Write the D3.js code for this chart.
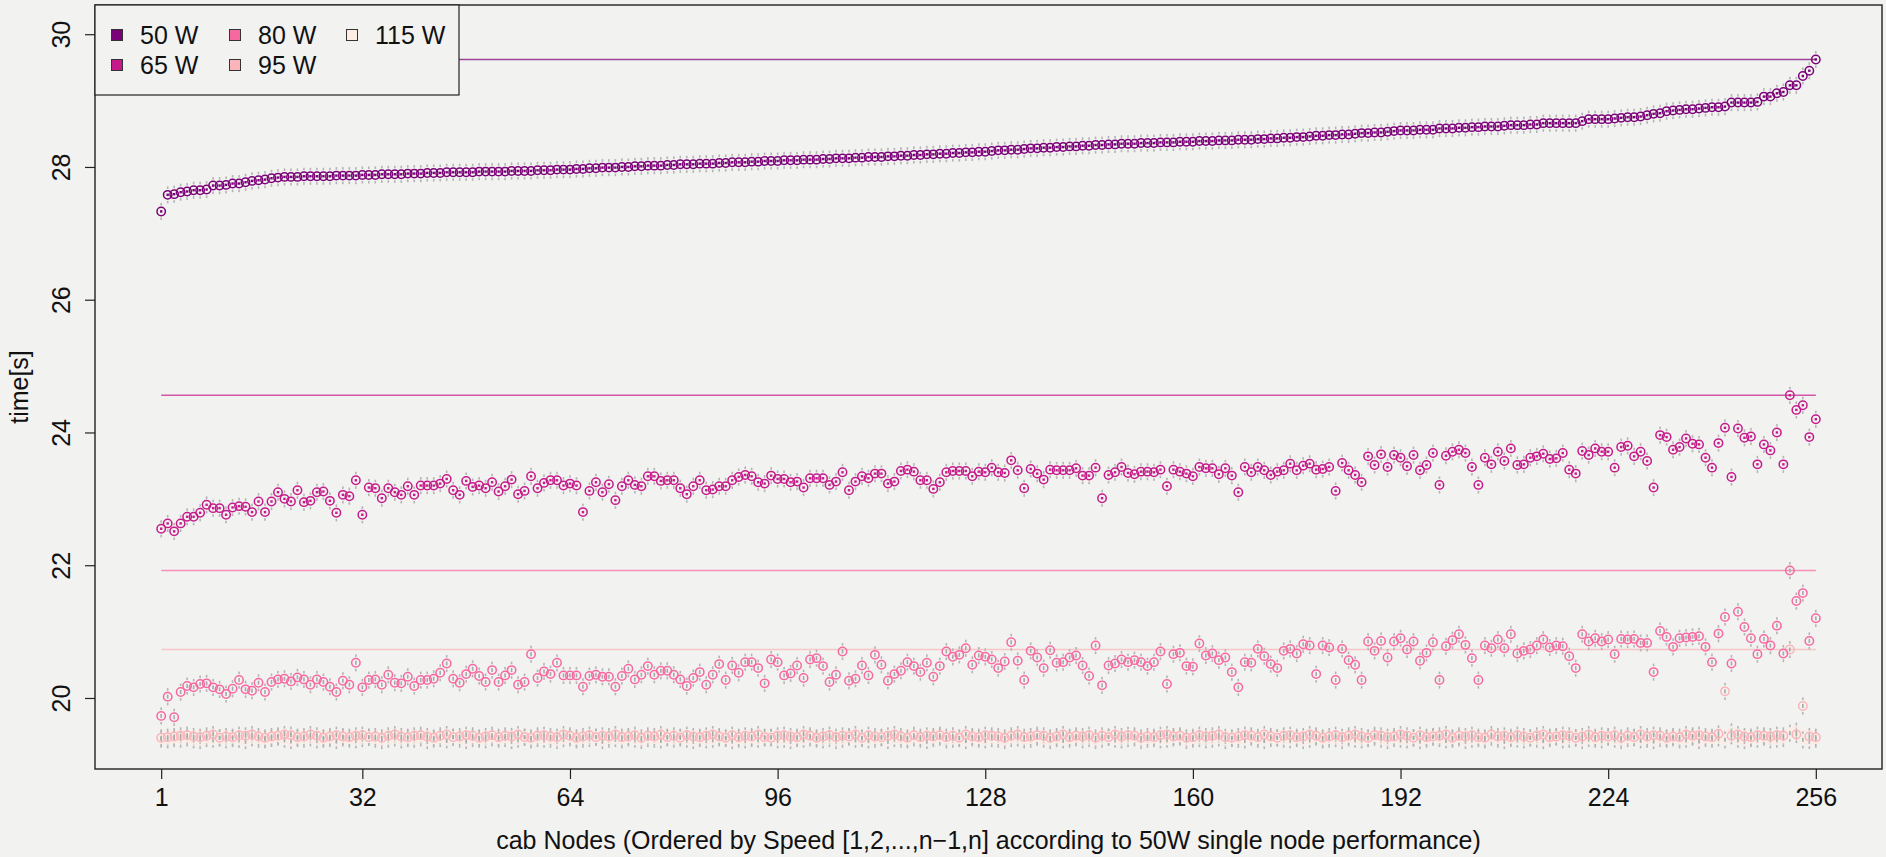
<!DOCTYPE html>
<html><head><meta charset="utf-8">
<script src="https://cdn.jsdelivr.net/npm/d3@7"></script>
<style>
html,body{margin:0;padding:0;background:#f2f2f1;}
svg{display:block;font-family:"Liberation Sans",Arial,Helvetica,sans-serif;}
</style>
</head><body>
<svg id="chart" width="1886" height="857"></svg>
<script>
// ---------- data ----------
const seriesNames = ["50 W", "65 W", "80 W", "95 W", "115 W"];
const seriesColors = ["#7a0177", "#c51b8a", "#f768a1", "#fbb4b9", "#feebe2"];
const xTickValues = [1, 32, 64, 96, 128, 160, 192, 224, 256];
const yTickValues = [20, 22, 24, 26, 28, 30];
const xTitle = "cab Nodes (Ordered by Speed [1,2,...,n\u22121,n] according to 50W single node performance)";
const yTitle = "time[s]";

const w50 = [27.33,27.58,27.59,27.62,27.63,27.65,27.65,27.66,27.72,27.72,
27.73,27.75,27.75,27.77,27.79,27.80,27.81,27.83,27.84,27.85,
27.85,27.85,27.86,27.86,27.86,27.86,27.86,27.87,27.87,27.87,
27.87,27.88,27.88,27.88,27.89,27.89,27.89,27.89,27.90,27.90,
27.90,27.91,27.91,27.91,27.92,27.92,27.92,27.92,27.92,27.93,
27.93,27.93,27.93,27.93,27.94,27.94,27.94,27.94,27.95,27.95,
27.95,27.96,27.96,27.96,27.97,27.97,27.98,27.98,27.99,27.99,
27.99,28.00,28.00,28.01,28.01,28.02,28.02,28.02,28.03,28.03,
28.04,28.04,28.04,28.05,28.05,28.05,28.06,28.06,28.07,28.07,
28.07,28.08,28.08,28.09,28.09,28.09,28.10,28.10,28.10,28.11,
28.11,28.11,28.12,28.12,28.13,28.13,28.13,28.14,28.14,28.15,
28.15,28.15,28.16,28.16,28.17,28.17,28.18,28.18,28.19,28.19,
28.20,28.20,28.21,28.21,28.22,28.22,28.23,28.23,28.24,28.25,
28.25,28.26,28.26,28.27,28.28,28.28,28.29,28.29,28.30,28.30,
28.31,28.31,28.32,28.32,28.33,28.33,28.34,28.34,28.35,28.35,
28.35,28.36,28.36,28.36,28.37,28.37,28.37,28.38,28.38,28.38,
28.39,28.39,28.39,28.40,28.40,28.40,28.41,28.41,28.41,28.42,
28.42,28.43,28.43,28.44,28.44,28.45,28.45,28.46,28.47,28.47,
28.48,28.48,28.49,28.49,28.50,28.51,28.51,28.52,28.52,28.53,
28.54,28.55,28.55,28.55,28.56,28.56,28.56,28.58,28.58,28.58,
28.59,28.59,28.60,28.60,28.61,28.61,28.61,28.62,28.63,28.63,
28.63,28.64,28.64,28.66,28.66,28.66,28.66,28.66,28.66,28.69,
28.72,28.72,28.72,28.72,28.73,28.74,28.75,28.75,28.76,28.78,
28.80,28.81,28.84,28.85,28.86,28.87,28.87,28.88,28.89,28.90,
28.90,28.91,28.97,28.97,28.97,28.97,28.98,29.06,29.06,29.11,
29.13,29.23,29.23,29.37,29.45,29.62];

const w65 = [22.55,22.63,22.51,22.63,22.73,22.73,22.79,22.91,22.86,22.86,
22.76,22.87,22.89,22.88,22.80,22.96,22.80,22.96,23.10,23.00,
22.96,23.13,22.95,22.97,23.10,23.11,22.97,22.79,23.06,23.04,
23.28,22.76,23.17,23.16,23.01,23.16,23.10,23.06,23.19,23.06,
23.20,23.20,23.20,23.23,23.30,23.13,23.06,23.27,23.18,23.20,
23.16,23.25,23.11,23.19,23.29,23.07,23.12,23.34,23.16,23.24,
23.28,23.28,23.20,23.23,23.20,22.80,23.12,23.25,23.10,23.22,
22.98,23.19,23.28,23.21,23.19,23.34,23.34,23.27,23.28,23.28,
23.16,23.07,23.19,23.28,23.13,23.14,23.19,23.19,23.28,23.33,
23.36,23.34,23.25,23.23,23.35,23.30,23.30,23.25,23.26,23.17,
23.31,23.31,23.31,23.21,23.26,23.40,23.13,23.26,23.34,23.31,
23.38,23.38,23.23,23.26,23.42,23.44,23.41,23.28,23.28,23.15,
23.25,23.40,23.42,23.42,23.42,23.34,23.41,23.40,23.47,23.40,
23.39,23.58,23.43,23.16,23.45,23.38,23.29,23.44,23.43,23.43,
23.43,23.46,23.35,23.35,23.47,23.01,23.36,23.40,23.48,23.39,
23.37,23.41,23.41,23.40,23.44,23.19,23.44,23.41,23.38,23.34,
23.48,23.46,23.46,23.37,23.46,23.35,23.10,23.48,23.40,23.48,
23.43,23.36,23.41,23.43,23.53,23.43,23.50,23.53,23.44,23.45,
23.48,23.12,23.54,23.43,23.36,23.25,23.64,23.51,23.67,23.48,
23.66,23.62,23.49,23.66,23.43,23.51,23.69,23.21,23.65,23.71,
23.74,23.69,23.48,23.21,23.62,23.52,23.71,23.57,23.76,23.51,
23.52,23.62,23.64,23.68,23.60,23.61,23.69,23.44,23.38,23.72,
23.66,23.76,23.71,23.71,23.47,23.78,23.80,23.64,23.71,23.57,
23.17,23.96,23.93,23.74,23.78,23.91,23.83,23.82,23.62,23.47,
23.84,24.07,23.33,24.06,23.92,23.94,23.52,23.82,23.73,24.00,
23.52,24.56,24.34,24.41,23.93,24.20];

const w80 = [19.73,20.02,19.71,20.09,20.18,20.16,20.21,20.22,20.16,20.13,
20.06,20.14,20.27,20.13,20.11,20.23,20.09,20.24,20.28,20.29,
20.25,20.31,20.28,20.20,20.28,20.24,20.17,20.09,20.26,20.20,
20.53,20.16,20.27,20.28,20.20,20.35,20.23,20.22,20.32,20.18,
20.27,20.27,20.29,20.38,20.52,20.29,20.23,20.36,20.44,20.33,
20.24,20.42,20.24,20.34,20.42,20.20,20.24,20.66,20.30,20.40,
20.36,20.53,20.34,20.34,20.34,20.17,20.33,20.35,20.32,20.32,
20.17,20.33,20.44,20.28,20.35,20.48,20.35,20.41,20.41,20.35,
20.28,20.18,20.30,20.39,20.20,20.35,20.51,20.27,20.49,20.38,
20.54,20.54,20.45,20.22,20.58,20.54,20.34,20.37,20.49,20.30,
20.58,20.60,20.48,20.24,20.35,20.70,20.26,20.29,20.49,20.34,
20.65,20.50,20.26,20.36,20.41,20.54,20.48,20.39,20.53,20.32,
20.48,20.70,20.62,20.65,20.75,20.50,20.64,20.62,20.58,20.45,
20.55,20.84,20.56,20.27,20.71,20.61,20.45,20.72,20.53,20.54,
20.61,20.64,20.49,20.33,20.79,20.19,20.49,20.52,20.58,20.54,
20.57,20.54,20.48,20.54,20.70,20.21,20.66,20.68,20.48,20.47,
20.82,20.64,20.67,20.57,20.61,20.39,20.16,20.54,20.53,20.74,
20.63,20.51,20.45,20.71,20.74,20.67,20.81,20.79,20.36,20.79,
20.76,20.27,20.74,20.57,20.50,20.27,20.85,20.71,20.86,20.61,
20.85,20.90,20.73,20.85,20.56,20.68,20.84,20.27,20.78,20.87,
20.96,20.80,20.60,20.27,20.79,20.75,20.88,20.75,20.96,20.67,
20.71,20.73,20.79,20.88,20.76,20.79,20.78,20.63,20.45,20.96,
20.85,20.90,20.85,20.88,20.66,20.89,20.88,20.89,20.83,20.83,
20.39,21.01,20.92,20.77,20.90,20.91,20.92,20.93,20.77,20.54,
20.97,21.22,20.52,21.30,21.07,20.90,20.66,20.89,20.79,21.09,
20.67,21.92,21.46,21.58,20.86,21.20];

const w95 = [19.40,19.41,19.42,19.43,19.44,19.42,19.41,19.43,19.45,19.40,
19.42,19.41,19.44,19.43,19.45,19.42,19.40,19.42,19.43,19.45,
19.44,19.41,19.42,19.45,19.43,19.40,19.42,19.44,19.42,19.41,
19.43,19.44,19.41,19.42,19.40,19.43,19.45,19.42,19.41,19.43,
19.44,19.42,19.40,19.43,19.45,19.41,19.42,19.44,19.43,19.40,
19.42,19.44,19.41,19.43,19.42,19.45,19.41,19.40,19.43,19.44,
19.42,19.41,19.45,19.43,19.40,19.42,19.44,19.41,19.43,19.42,
19.45,19.41,19.42,19.44,19.40,19.43,19.42,19.45,19.41,19.43,
19.40,19.44,19.42,19.41,19.43,19.45,19.42,19.40,19.44,19.41,
19.43,19.42,19.45,19.41,19.40,19.43,19.44,19.42,19.41,19.45,
19.43,19.40,19.42,19.44,19.41,19.43,19.42,19.45,19.40,19.44,
19.42,19.41,19.43,19.45,19.42,19.40,19.44,19.41,19.43,19.42,
19.44,19.41,19.43,19.40,19.45,19.42,19.41,19.44,19.43,19.42,
19.40,19.43,19.45,19.41,19.42,19.44,19.43,19.40,19.42,19.45,
19.41,19.43,19.42,19.44,19.40,19.43,19.41,19.45,19.42,19.44,
19.43,19.40,19.42,19.41,19.44,19.45,19.42,19.43,19.40,19.41,
19.44,19.42,19.43,19.45,19.41,19.40,19.42,19.44,19.43,19.41,
19.45,19.42,19.40,19.43,19.44,19.41,19.42,19.45,19.43,19.40,
19.42,19.44,19.41,19.43,19.45,19.42,19.40,19.44,19.43,19.41,
19.42,19.45,19.43,19.40,19.44,19.41,19.42,19.43,19.45,19.40,
19.43,19.42,19.44,19.41,19.40,19.45,19.42,19.43,19.41,19.44,
19.42,19.40,19.43,19.45,19.41,19.42,19.44,19.43,19.40,19.42,
19.45,19.41,19.43,19.42,19.44,19.40,19.43,19.41,19.45,19.42,
19.44,19.43,19.40,19.42,19.41,19.45,19.43,19.44,19.42,19.41,
19.46,20.10,19.43,19.45,19.42,19.41,19.44,19.43,19.42,19.44,
19.43,20.73,19.45,19.88,19.42,19.41];

const w115 = [19.38,19.37,19.39,19.38,19.40,19.37,19.36,19.39,19.38,19.40,
19.37,19.39,19.38,19.36,19.40,19.38,19.37,19.39,19.41,19.38,
19.36,19.39,19.38,19.40,19.37,19.38,19.39,19.36,19.40,19.38,
19.37,19.39,19.41,19.38,19.36,19.38,19.40,19.37,19.39,19.38,
19.40,19.36,19.38,19.39,19.37,19.41,19.38,19.36,19.39,19.38,
19.37,19.40,19.38,19.39,19.36,19.38,19.41,19.37,19.39,19.38,
19.38,19.36,19.39,19.40,19.37,19.38,19.39,19.41,19.36,19.38,
19.39,19.37,19.40,19.38,19.36,19.39,19.38,19.37,19.40,19.38,
19.41,19.38,19.36,19.39,19.37,19.38,19.40,19.39,19.36,19.38,
19.37,19.39,19.38,19.40,19.41,19.37,19.38,19.36,19.39,19.38,
19.40,19.38,19.37,19.39,19.36,19.38,19.41,19.38,19.39,19.37,
19.38,19.40,19.36,19.39,19.38,19.37,19.40,19.38,19.36,19.39,
19.41,19.37,19.38,19.39,19.36,19.40,19.38,19.37,19.39,19.38,
19.36,19.39,19.40,19.37,19.38,19.41,19.38,19.36,19.39,19.37,
19.38,19.40,19.37,19.39,19.36,19.38,19.41,19.38,19.37,19.39,
19.40,19.36,19.38,19.39,19.37,19.38,19.40,19.41,19.36,19.38,
19.39,19.37,19.38,19.40,19.36,19.39,19.38,19.37,19.41,19.38,
19.36,19.39,19.40,19.38,19.37,19.39,19.36,19.38,19.41,19.37,
19.38,19.39,19.36,19.40,19.38,19.37,19.39,19.41,19.38,19.36,
19.39,19.38,19.37,19.40,19.36,19.38,19.41,19.39,19.37,19.38,
19.40,19.36,19.38,19.39,19.37,19.41,19.38,19.36,19.39,19.38,
19.37,19.40,19.38,19.36,19.39,19.41,19.37,19.38,19.40,19.36,
19.39,19.38,19.37,19.41,19.38,19.36,19.39,19.40,19.37,19.38,
19.36,19.39,19.38,19.40,19.37,19.38,19.41,19.36,19.39,19.38,
19.40,19.37,19.49,19.38,19.36,19.39,19.38,19.41,19.37,19.38,
19.39,19.47,19.50,19.37,19.36,19.38];

const seriesValues = [w50, w65, w80, w95, w115];

// ---------- layout ----------
const W = 1886, H = 857;
const plot = {left: 95, right: 1882, top: 5, bottom: 769};
const BG = "#f2f2f1";
const FONT = 25;

const svg = d3.select("#chart");
svg.append("rect").attr("width", W).attr("height", H).attr("fill", BG);

const n = w50.length;
const x = d3.scaleLinear().domain([1 - 0.04 * (n - 1), n + 0.04 * (n - 1)]).range([plot.left, plot.right]);
const y = d3.scaleLinear().domain([18.93, 30.44]).range([plot.bottom, plot.top]);

const series = seriesNames.map((name, k) => ({
  name, color: seriesColors[k],
  values: seriesValues[k].map((v, i) => ({idx: i + 1, v}))
}));

// max lines
const lineG = svg.append("g");
series.forEach(s => {
  const m = d3.max(s.values, d => d.v);
  lineG.append("line")
    .attr("x1", x(1)).attr("x2", x(n))
    .attr("y1", y(m)).attr("y2", y(m))
    .attr("stroke", s.color).attr("stroke-width", 1.6).attr("stroke-opacity", 0.72);
});

// gray run dots
const grayG = svg.append("g").attr("fill", "#b3b3b3");
series.forEach(s => {
  grayG.selectAll(null).data(s.values).join("rect")
    .attr("x", d => x(d.idx) - 0.8).attr("y", d => y(d.v) - 8.5)
    .attr("width", 1.6).attr("height", 2.6);
  grayG.selectAll(null).data(s.values).join("rect")
    .attr("x", d => x(d.idx) - 0.8).attr("y", d => y(d.v) + 6)
    .attr("width", 1.6).attr("height", 2.6);
});

// points (draw light series first so dark ones sit on top)
const ptG = svg.append("g");
series.slice().reverse().forEach((s, rk) => {
  const k = series.length - 1 - rk;
  const g = ptG.append("g");
  g.selectAll("circle").data(s.values).join("circle")
    .attr("cx", d => x(d.idx)).attr("cy", d => y(d.v))
    .attr("r", 4.2).attr("fill", "none")
    .attr("stroke", s.color).attr("stroke-width", 1.5);
  if (k < 2) {
    g.selectAll("rect").data(s.values).join("rect")
      .attr("x", d => x(d.idx) - 1.2).attr("y", d => y(d.v) - 1.2)
      .attr("width", 2.4).attr("height", 2.4).attr("fill", s.color);
  } else {
    g.selectAll("rect").data(s.values).join("rect")
      .attr("x", d => x(d.idx) - 0.8).attr("y", d => y(d.v) - 2)
      .attr("width", 1.6).attr("height", 4).attr("fill", "#a8a8a8");
  }
});

// box
svg.append("rect")
  .attr("x", plot.left).attr("y", plot.top)
  .attr("width", plot.right - plot.left).attr("height", plot.bottom - plot.top)
  .attr("fill", "none").attr("stroke", "#222").attr("stroke-width", 1.4);

// x axis
const xAxis = svg.append("g").attr("transform", `translate(0,${plot.bottom})`)
  .call(d3.axisBottom(x).tickValues(xTickValues).tickSize(10).tickPadding(9).tickFormat(d3.format("d")));
xAxis.select(".domain").remove();
xAxis.selectAll("line").attr("stroke", "#222").attr("stroke-width", 1.2);
xAxis.selectAll("text").attr("font-size", FONT).attr("fill", "#111").attr("font-family", null);

// y axis
const yAxis = svg.append("g").attr("transform", `translate(${plot.left},0)`)
  .call(d3.axisLeft(y).tickValues(yTickValues).tickSize(10).tickFormat(d3.format("d")));
yAxis.select(".domain").remove();
yAxis.selectAll("line").attr("stroke", "#222").attr("stroke-width", 1.2);
yAxis.selectAll("text")
  .attr("x", null).attr("dy", null)
  .attr("text-anchor", "middle")
  .attr("transform", "translate(-25,0) rotate(-90)")
  .attr("font-size", FONT).attr("fill", "#111").attr("font-family", null);

// titles
svg.append("text")
  .attr("x", (plot.left + plot.right) / 2).attr("y", 849)
  .attr("text-anchor", "middle").attr("font-size", FONT).attr("fill", "#111")
  .text(xTitle);
svg.append("text")
  .attr("transform", `translate(28,${(plot.top + plot.bottom) / 2}) rotate(-90)`)
  .attr("text-anchor", "middle").attr("font-size", FONT).attr("fill", "#111")
  .text(yTitle);

// legend
const lg = svg.append("g");
lg.append("rect").attr("x", plot.left).attr("y", plot.top).attr("width", 364).attr("height", 90)
  .attr("fill", BG).attr("stroke", "#222").attr("stroke-width", 1.2);
const legPos = [[117, 35], [117, 65], [235, 35], [235, 65], [352, 35]];
series.forEach((s, k) => {
  const [cx, cy] = legPos[k];
  lg.append("rect").attr("x", cx - 5.5).attr("y", cy - 5.5).attr("width", 11).attr("height", 11)
    .attr("fill", s.color).attr("stroke", "#333").attr("stroke-width", 1);
  lg.append("text").attr("x", cx + 23).attr("y", cy + 9).attr("font-size", FONT).attr("fill", "#111")
    .text(s.name);
});
</script>
</body></html>
